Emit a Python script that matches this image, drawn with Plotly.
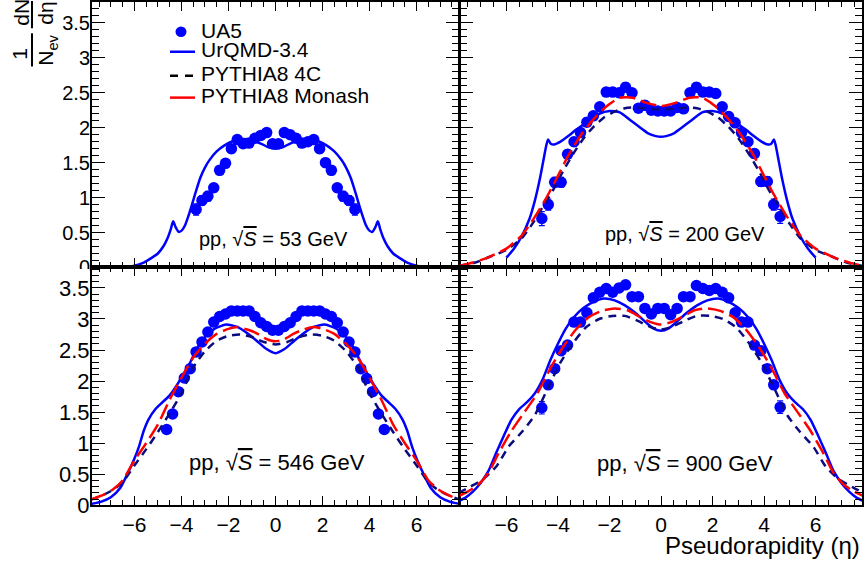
import plotly.graph_objects as go

W, H = 864, 583
FONT = "Liberation Sans, Arial, Helvetica, sans-serif"

# ---------------- data ----------------
# UA5, pp 53 GeV
eta_ua5_53 = [-3.375, -3.125, -2.875, -2.625, -2.375, -2.125, -1.875, -1.625, -1.375, -1.125, -0.875, -0.625, -0.375, -0.125,
              0.125, 0.375, 0.625, 0.875, 1.125, 1.375, 1.625, 1.875, 2.125, 2.375, 2.625, 2.875, 3.125, 3.375]
ua5_53 = [0.83, 0.96, 1.02, 1.14, 1.39, 1.49, 1.70, 1.83, 1.77, 1.78, 1.85, 1.89, 1.93, 1.77,
          1.77, 1.93, 1.90, 1.85, 1.78, 1.80, 1.83, 1.70, 1.50, 1.39, 1.14, 1.02, 0.96, 0.83]
err_ua5_53 = [0.08, 0.07, 0.07, 0.06, 0.06, 0.06, 0.06, 0.05, 0.05, 0.05, 0.05, 0.05, 0.05, 0.05,
              0.05, 0.05, 0.05, 0.05, 0.05, 0.05, 0.05, 0.06, 0.06, 0.06, 0.06, 0.07, 0.07, 0.08]

# UA5, pp 200 GeV
eta_ua5_200 = [-4.625, -4.375, -4.125, -3.875, -3.625, -3.375, -3.125, -2.875, -2.625, -2.375, -2.125, -1.875, -1.625,
               -1.375, -1.125, -0.875, -0.625, -0.375, -0.125,
               0.125, 0.375, 0.625, 0.875, 1.125, 1.375, 1.625, 1.875, 2.125, 2.375, 2.625, 2.875, 3.125,
               3.375, 3.625, 3.875, 4.125, 4.375, 4.625]
ua5_200 = [0.70, 0.90, 1.22, 1.22, 1.62, 1.80, 1.93, 2.08, 2.17, 2.30, 2.51, 2.51, 2.50, 2.58, 2.50, 2.28, 2.32, 2.25, 2.24,
           2.24, 2.24, 2.29, 2.27, 2.50, 2.58, 2.51, 2.51, 2.49, 2.30, 2.16, 2.07, 1.93, 1.80, 1.63, 1.23, 1.23, 0.90, 0.73]
err_ua5_200 = [0.10, 0.08, 0.07, 0.07, 0.06, 0.06, 0.06, 0.06, 0.06, 0.06, 0.06, 0.06, 0.06, 0.065, 0.06, 0.05, 0.05, 0.05, 0.05,
               0.05, 0.05, 0.05, 0.05, 0.06, 0.065, 0.06, 0.06, 0.06, 0.06, 0.06, 0.06, 0.06, 0.06, 0.06, 0.07, 0.07, 0.08, 0.10]

# UA5, pp 546 GeV
eta_ua5_546 = eta_ua5_200
ua5_546 = [1.22, 1.47, 1.83, 2.05, 2.20, 2.47, 2.63, 2.79, 2.95, 3.04, 3.08, 3.13, 3.13, 3.13, 3.13, 3.04, 2.94, 2.88, 2.82,
           2.82, 2.88, 2.94, 3.04, 3.13, 3.13, 3.13, 3.13, 3.08, 3.04, 2.94, 2.79, 2.63, 2.47, 2.20, 2.04, 1.83, 1.47, 1.22]
err_ua5_546 = [0.03] * 38

# UA5, pp 900 GeV
eta_ua5_900 = eta_ua5_200
ua5_900 = [1.57, 1.94, 2.20, 2.49, 2.58, 2.95, 2.95, 3.10, 3.34, 3.43, 3.49, 3.43, 3.50, 3.55, 3.36, 3.36, 3.17, 3.08, 3.17,
           3.17, 3.07, 3.17, 3.36, 3.36, 3.54, 3.49, 3.46, 3.49, 3.43, 3.34, 3.10, 2.95, 2.95, 2.58, 2.49, 2.20, 1.94, 1.58]
err_ua5_900 = [0.10, 0.06, 0.05, 0.05, 0.05, 0.05, 0.05, 0.05, 0.05, 0.05, 0.05, 0.05, 0.05, 0.05, 0.05, 0.05, 0.05, 0.05, 0.05,
               0.05, 0.05, 0.05, 0.05, 0.05, 0.05, 0.05, 0.05, 0.05, 0.05, 0.05, 0.05, 0.05, 0.05, 0.05, 0.05, 0.05, 0.05, 0.10]

# UrQMD-3.4, 53 GeV
eta_urqmd_53 = [-7.85, -7.0, -6.5, -6.0, -5.6, -5.3, -5.0, -4.75, -4.6, -4.45, -4.35, -4.25, -4.12, -3.98, -3.85, -3.7,
                -3.55, -3.4, -3.2, -3.0, -2.8, -2.5, -2.2, -1.8, -1.4, -1.0, -0.6, -0.3, 0.0,
                0.3, 0.6, 1.0, 1.4, 1.8, 2.2, 2.5, 2.8, 3.0, 3.2, 3.4, 3.55, 3.7, 3.85, 3.98, 4.12, 4.25, 4.35,
                4.45, 4.6, 4.75, 5.0, 5.3, 5.6, 6.0, 6.5, 7.0, 7.85]
urqmd_53 = [0.0, 0.0, 0.005, 0.025, 0.07, 0.13, 0.2, 0.31, 0.41, 0.55, 0.66, 0.58, 0.51, 0.53, 0.6, 0.74,
            0.9, 1.07, 1.28, 1.43, 1.54, 1.66, 1.74, 1.81, 1.84, 1.82, 1.77, 1.72, 1.70,
            1.72, 1.77, 1.82, 1.84, 1.81, 1.74, 1.66, 1.54, 1.43, 1.28, 1.07, 0.9, 0.74, 0.6, 0.53, 0.51, 0.58, 0.66,
            0.55, 0.41, 0.31, 0.2, 0.13, 0.07, 0.025, 0.005, 0.0, 0.0]

# UrQMD-3.4, 200 GeV
eta_urqmd_200 = [-6.0, -5.7, -5.4, -5.1, -4.9, -4.7, -4.55, -4.45, -4.38, -4.28, -4.15, -3.9, -3.6, -3.3, -3.0, -2.7,
                 -2.4, -2.0, -1.6, -1.2, -0.8, -0.5, -0.2, 0.0,
                 0.2, 0.5, 0.8, 1.2, 1.6, 2.0, 2.4, 2.7, 3.0, 3.3, 3.6, 3.9, 4.15, 4.28, 4.38, 4.45, 4.55, 4.7,
                 4.9, 5.1, 5.4, 5.7, 6.0]
urqmd_200 = [0.14, 0.27, 0.45, 0.7, 0.95, 1.27, 1.56, 1.75, 1.83, 1.77, 1.76, 1.8, 1.88, 1.97, 2.05, 2.13,
             2.2, 2.24, 2.22, 2.11, 2.0, 1.92, 1.88, 1.87,
             1.88, 1.92, 2.0, 2.11, 2.22, 2.24, 2.2, 2.13, 2.05, 1.97, 1.88, 1.8, 1.76, 1.77, 1.83, 1.75, 1.56, 1.27,
             0.95, 0.7, 0.45, 0.27, 0.14]

# PYTHIA8 4C, 200 GeV
eta_p4c_200 = [-7.85, -7.2, -6.6, -6.0, -5.4, -5.0, -4.6, -4.2, -3.8, -3.4, -3.0, -2.6, -2.2, -1.8, -1.4, -1.0, -0.5, 0.0,
               0.5, 1.0, 1.4, 1.8, 2.2, 2.6, 3.0, 3.4, 3.8, 4.2, 4.6, 5.0, 5.4, 6.0, 6.6, 7.2, 7.85]
p4c_200 = [0.02, 0.07, 0.16, 0.25, 0.42, 0.62, 0.86, 1.1, 1.38, 1.63, 1.85, 2.02, 2.15, 2.23, 2.28, 2.29, 2.27, 2.26,
           2.27, 2.29, 2.28, 2.23, 2.15, 2.02, 1.85, 1.63, 1.38, 1.1, 0.86, 0.62, 0.42, 0.25, 0.16, 0.07, 0.02]

# PYTHIA8 Monash, 200 GeV
eta_pmon_200 = [-7.85, -7.3, -6.8, -6.0, -5.4, -4.9, -4.4, -4.0, -3.6, -3.1, -2.6, -2.1, -1.6, -1.1, -0.6, 0.0,
                0.6, 1.1, 1.6, 2.1, 2.6, 3.1, 3.6, 4.0, 4.4, 4.9, 5.4, 6.0, 6.8, 7.3, 7.85]
pmon_200 = [0.02, 0.07, 0.13, 0.27, 0.46, 0.72, 1.03, 1.31, 1.6, 1.9, 2.13, 2.31, 2.43, 2.43, 2.36, 2.31,
            2.36, 2.43, 2.43, 2.31, 2.13, 1.9, 1.6, 1.31, 1.03, 0.72, 0.46, 0.27, 0.13, 0.07, 0.02]

# UrQMD-3.4, 546 GeV
eta_urqmd_546 = [-7.85, -7.4, -7.0, -6.6, -6.3, -6.0, -5.8, -5.6, -5.4, -5.1, -4.8, -4.5, -4.2, -3.9, -3.6, -3.3, -3.0,
                 -2.6, -2.1, -1.6, -1.2, -0.8, -0.4, 0.0,
                 0.4, 0.8, 1.2, 1.6, 2.1, 2.6, 3.0, 3.3, 3.6, 3.9, 4.2, 4.5, 4.8, 5.1, 5.4, 5.6, 5.8, 6.0, 6.3,
                 6.6, 7.0, 7.4, 7.85]
urqmd_546 = [0.02, 0.06, 0.13, 0.28, 0.5, 0.75, 0.95, 1.2, 1.38, 1.55, 1.66, 1.77, 1.93, 2.12, 2.32, 2.55, 2.71,
             2.84, 2.91, 2.87, 2.77, 2.65, 2.52, 2.45,
             2.52, 2.65, 2.77, 2.87, 2.91, 2.84, 2.71, 2.55, 2.32, 2.12, 1.93, 1.77, 1.66, 1.55, 1.38, 1.2, 0.95, 0.75, 0.5,
             0.28, 0.13, 0.06, 0.02]

# PYTHIA8 4C, 546 GeV
eta_p4c_546 = [-7.85, -7.3, -6.9, -6.5, -6.0, -5.5, -5.0, -4.5, -4.0, -3.5, -3.0, -2.5, -2.0, -1.5, -1.0, -0.5, 0.0,
               0.5, 1.0, 1.5, 2.0, 2.5, 3.0, 3.5, 4.0, 4.5, 5.0, 5.5, 6.0, 6.5, 6.9, 7.3, 7.85]
p4c_546 = [0.09, 0.17, 0.25, 0.37, 0.64, 0.9, 1.18, 1.48, 1.8, 2.22, 2.48, 2.65, 2.73, 2.75, 2.71, 2.63, 2.59,
           2.63, 2.71, 2.75, 2.73, 2.65, 2.48, 2.22, 1.8, 1.48, 1.18, 0.9, 0.64, 0.37, 0.25, 0.17, 0.09]

# PYTHIA8 Monash, 546 GeV
eta_pmon_546 = [-7.85, -7.3, -6.9, -6.5, -6.0, -5.5, -5.0, -4.5, -4.0, -3.5, -3.0, -2.5, -2.0, -1.6, -1.2, -0.8, -0.4, 0.0,
                0.4, 0.8, 1.2, 1.6, 2.0, 2.5, 3.0, 3.5, 4.0, 4.5, 5.0, 5.5, 6.0, 6.5, 6.9, 7.3, 7.85]
pmon_546 = [0.09, 0.17, 0.26, 0.4, 0.72, 1.0, 1.3, 1.7, 2.05, 2.38, 2.6, 2.76, 2.84, 2.87, 2.83, 2.77, 2.68, 2.64,
            2.68, 2.77, 2.83, 2.87, 2.84, 2.76, 2.6, 2.38, 2.05, 1.7, 1.3, 1.0, 0.72, 0.4, 0.26, 0.17, 0.09]

# UrQMD-3.4, 900 GeV
eta_urqmd_900 = [-7.85, -7.6, -7.3, -7.0, -6.7, -6.4, -6.1, -5.8, -5.5, -5.2, -4.9, -4.6, -4.3, -4.0, -3.7, -3.4, -3.0,
                 -2.6, -2.2, -1.8, -1.4, -1.0, -0.6, -0.3, 0.0,
                 0.3, 0.6, 1.0, 1.4, 1.8, 2.2, 2.6, 3.0, 3.4, 3.7, 4.0, 4.3, 4.6, 4.9, 5.2, 5.5, 5.8, 6.1, 6.4,
                 6.7, 7.0, 7.3, 7.6, 7.85]
urqmd_900 = [0.07, 0.12, 0.22, 0.36, 0.55, 0.84, 1.12, 1.38, 1.55, 1.66, 1.8, 2.02, 2.33, 2.6, 2.84, 3.02, 3.18,
             3.28, 3.33, 3.3, 3.22, 3.1, 2.95, 2.85, 2.81,
             2.85, 2.95, 3.1, 3.22, 3.3, 3.33, 3.28, 3.18, 3.02, 2.84, 2.6, 2.33, 2.02, 1.8, 1.66, 1.55, 1.38, 1.12, 0.84,
             0.55, 0.36, 0.22, 0.12, 0.07]

# PYTHIA8 4C, 900 GeV
eta_p4c_900 = [-7.85, -7.4, -6.9, -6.4, -5.9, -5.4, -4.9, -4.4, -3.9, -3.4, -2.9, -2.4, -1.9, -1.4, -0.9, -0.4, 0.0,
               0.4, 0.9, 1.4, 1.9, 2.4, 2.9, 3.4, 3.9, 4.4, 4.9, 5.4, 5.9, 6.4, 6.9, 7.4, 7.85]
p4c_900 = [0.2, 0.3, 0.42, 0.62, 0.95, 1.18, 1.45, 1.88, 2.3, 2.62, 2.87, 3.0, 3.05, 3.05, 2.97, 2.87, 2.83,
           2.87, 2.97, 3.05, 3.05, 3.0, 2.87, 2.62, 2.3, 1.88, 1.45, 1.18, 0.95, 0.62, 0.42, 0.3, 0.2]

# PYTHIA8 Monash, 900 GeV
eta_pmon_900 = [-7.85, -7.5, -7.1, -6.7, -6.3, -5.8, -5.3, -4.8, -4.3, -3.8, -3.3, -2.8, -2.3, -1.8, -1.3, -0.8, -0.4, 0.0,
                0.4, 0.8, 1.3, 1.8, 2.3, 2.8, 3.3, 3.8, 4.3, 4.8, 5.3, 5.8, 6.3, 6.7, 7.1, 7.5, 7.85]
pmon_900 = [0.15, 0.22, 0.33, 0.52, 0.84, 1.2, 1.5, 1.8, 2.2, 2.55, 2.83, 3.03, 3.13, 3.17, 3.14, 3.03, 2.95, 2.91,
            2.95, 3.03, 3.14, 3.17, 3.13, 3.03, 2.83, 2.55, 2.2, 1.8, 1.5, 1.2, 0.84, 0.52, 0.33, 0.22, 0.15]

panel_labels = ["pp, √<span style='text-decoration:overline'><i>S</i></span> = 53 GeV",
                "pp, √<span style='text-decoration:overline'><i>S</i></span> = 200 GeV",
                "pp, √<span style='text-decoration:overline'><i>S</i></span> = 546 GeV",
                "pp, √<span style='text-decoration:overline'><i>S</i></span> = 900 GeV"]
legend_labels = ["UA5", "UrQMD-3.4", "PYTHIA8 4C", "PYTHIA8 Monash"]
x_title = "Pseudorapidity (η)"

# ---------------- styles ----------------
BLUE = "#0000ff"
NAVY = "#0b0b80"
RED = "#ff0000"
LW = 2.5
DASH_4C = "8px,6px"
DASH_MON = "16px,6px"


def fx(p):
    return p / W


def fy(p):
    return 1 - p / H


fig = go.Figure()

panels = [
    ("x", "y", eta_ua5_53, ua5_53, err_ua5_53, [(eta_urqmd_53, urqmd_53, BLUE, "solid")]),
    ("x2", "y2", eta_ua5_200, ua5_200, err_ua5_200,
     [(eta_urqmd_200, urqmd_200, BLUE, "solid"), (eta_p4c_200, p4c_200, NAVY, DASH_4C), (eta_pmon_200, pmon_200, RED, DASH_MON)]),
    ("x3", "y3", eta_ua5_546, ua5_546, err_ua5_546,
     [(eta_urqmd_546, urqmd_546, BLUE, "solid"), (eta_p4c_546, p4c_546, NAVY, DASH_4C), (eta_pmon_546, pmon_546, RED, DASH_MON)]),
    ("x4", "y4", eta_ua5_900, ua5_900, err_ua5_900,
     [(eta_urqmd_900, urqmd_900, BLUE, "solid"), (eta_p4c_900, p4c_900, NAVY, DASH_4C), (eta_pmon_900, pmon_900, RED, DASH_MON)]),
]

for xa, ya, ex, ey, ee, curves in panels:
    fig.add_trace(go.Scatter(x=ex, y=ey, mode="markers", xaxis=xa, yaxis=ya, showlegend=False,
                             marker=dict(symbol="circle", size=11.5, color=BLUE),
                             error_y=dict(type="data", array=ee, color=BLUE, thickness=1.2, width=3)))
    for cx, cy, col, dash in curves:
        fig.add_trace(go.Scatter(x=cx, y=cy, mode="lines", xaxis=xa, yaxis=ya, showlegend=False,
                                 line=dict(color=col, width=LW, dash=dash, shape="spline", smoothing=0.6)))

XL = [92, 459]
XR = [460, 862]
YT = [1, 273]
YB = [273, 516.7]


def xaxis_cfg(dom, labels, size):
    return dict(domain=[fx(dom[0]), fx(dom[1])], range=[-7.8, 7.8], showline=True, linewidth=2, linecolor="black",
                mirror="ticks", ticks="inside", ticklen=9, tickwidth=1, tickcolor="black", dtick=2, tick0=0,
                minor=dict(ticks="inside", ticklen=5, tickwidth=1, tickcolor="black", dtick=0.5, tick0=0),
                showgrid=False, zeroline=False, showticklabels=labels,
                tickfont=dict(family=FONT, size=size, color="black"))


def yaxis_cfg(dom, rng, labels, size):
    return dict(domain=[fy(dom[1]), fy(dom[0])], range=rng, showline=True, linewidth=2, linecolor="black",
                mirror="ticks", ticks="inside", ticklen=13, tickwidth=1, tickcolor="black", dtick=0.5, tick0=0,
                minor=dict(ticks="inside", ticklen=7, tickwidth=1, tickcolor="black", dtick=0.1, tick0=0),
                showgrid=False, zeroline=False, showticklabels=labels, ticklabelstandoff=-4,
                tickfont=dict(family=FONT, size=size, color="black"))


fig.update_layout(
    width=W, height=H, margin=dict(l=0, r=0, t=0, b=0),
    paper_bgcolor="white", plot_bgcolor="white",
    font=dict(family=FONT, color="black"),
    xaxis=dict(xaxis_cfg(XL, False, 21), anchor="y"),
    yaxis=dict(yaxis_cfg(YT, [0, 3.8], True, 20), anchor="x"),
    xaxis2=dict(xaxis_cfg(XR, False, 21), anchor="y2"),
    yaxis2=dict(yaxis_cfg(YT, [0, 3.8], False, 20), anchor="x2"),
    xaxis3=dict(xaxis_cfg(XL, True, 21), anchor="y3"),
    yaxis3=dict(yaxis_cfg(YB, [0, 3.83], True, 22), anchor="x3"),
    xaxis4=dict(xaxis_cfg(XR, True, 21), anchor="y4"),
    yaxis4=dict(yaxis_cfg(YB, [0, 3.83], False, 22), anchor="x4"),
)

shapes = []
annotations = []

# white mask clipping the lower half of the top panel "0" label
shapes.append(dict(type="rect", xref="paper", yref="paper", x0=fx(40), x1=fx(89), y0=fy(287), y1=fy(274.5),
                   fillcolor="white", line=dict(width=0), layer="above"))

# y-axis title (rotated fraction pieces)
ytitle = [("dN", 22, 12), ("dη", 46, 13), ("1", 20, 54), ("N<sub>ev</sub>", 47, 51)]
for txt, x, y in ytitle:
    annotations.append(dict(text=txt, xref="paper", yref="paper", x=fx(x), y=fy(y), showarrow=False,
                            textangle=-90, xanchor="center", yanchor="middle",
                            font=dict(family=FONT, size=21, color="black")))
shapes.append(dict(type="line", xref="paper", yref="paper", x0=fx(32), x1=fx(32), y0=fy(0), y1=fy(28),
                   line=dict(color="black", width=2)))
shapes.append(dict(type="line", xref="paper", yref="paper", x0=fx(32), x1=fx(32), y0=fy(33), y1=fy(67),
                   line=dict(color="black", width=2)))

# legend (drawn manually)
shapes.append(dict(type="circle", xref="paper", yref="paper", x0=fx(175.5), x1=fx(186.5), y0=fy(37), y1=fy(26),
                   fillcolor=BLUE, line=dict(color=BLUE, width=0)))
shapes.append(dict(type="line", xref="paper", yref="paper", x0=fx(170), x1=fx(195), y0=fy(52), y1=fy(52),
                   line=dict(color=BLUE, width=LW)))
shapes.append(dict(type="line", xref="paper", yref="paper", x0=fx(170), x1=fx(195), y0=fy(76.5), y1=fy(76.5),
                   line=dict(color="black", width=LW, dash="8px,7px")))
shapes.append(dict(type="line", xref="paper", yref="paper", x0=fx(170), x1=fx(195), y0=fy(99), y1=fy(99),
                   line=dict(color=RED, width=LW)))
for txt, y in zip(legend_labels, [30.5, 50, 74, 96.5]):
    annotations.append(dict(text=txt, xref="paper", yref="paper", x=fx(199), y=fy(y), showarrow=False,
                            xanchor="left", yanchor="middle", font=dict(family=FONT, size=21, color="black")))

# panel labels
for txt, x, y, s in zip(panel_labels, [273, 685, 277, 685], [244, 239, 473, 474], [20, 20, 22, 22]):
    annotations.append(dict(text=txt, xref="paper", yref="paper", x=fx(x), y=fy(y), showarrow=False,
                            xanchor="center", yanchor="middle", font=dict(family=FONT, size=s, color="black")))

# x-axis title
annotations.append(dict(text=x_title, xref="paper", yref="paper", x=fx(862), y=fy(558), showarrow=False,
                        xanchor="right", yanchor="middle", font=dict(family=FONT, size=24, color="black")))

fig.update_layout(shapes=shapes, annotations=annotations)
fig.write_html(
    "out.html",
    config={"displayModeBar": False},
    post_script=(
        "var s=document.createElement('style');"
        "s.textContent='html,body{margin:0!important;padding:0!important;overflow:hidden!important;"
        "width:864px;height:583px;}';"
        "document.head.appendChild(s);"
    ),
)
